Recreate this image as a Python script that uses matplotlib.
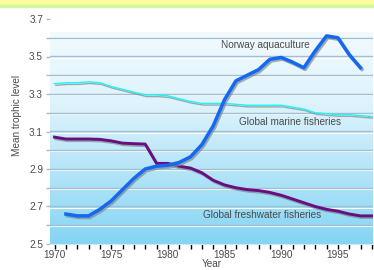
import numpy as np
import matplotlib
matplotlib.use("Agg")
import matplotlib.pyplot as plt
import matplotlib.patheffects as pe
from matplotlib.colors import LinearSegmentedColormap
from matplotlib.patches import Rectangle

plt.rcParams['font.family'] = ['Liberation Sans Narrow', 'Liberation Sans', 'DejaVu Sans']

# values
norway_years = list(range(1971, 1998))
norway = [2.66, 2.65, 2.65, 2.685, 2.73, 2.79, 2.85, 2.90, 2.915, 2.92,
          2.935, 2.965, 3.03, 3.13, 3.27, 3.37, 3.40, 3.43, 3.485, 3.495,
          3.47, 3.44, 3.53, 3.61, 3.60, 3.51, 3.44]

global_years = list(range(1970, 1999))
marine = [3.355, 3.36, 3.36, 3.365, 3.36, 3.34, 3.325, 3.31, 3.295, 3.295,
          3.29, 3.275, 3.26, 3.25, 3.25, 3.25, 3.245, 3.24, 3.24, 3.24,
          3.24, 3.23, 3.22, 3.20, 3.195, 3.19, 3.19, 3.185, 3.18]
freshwater = [3.07, 3.06, 3.06, 3.06, 3.058, 3.05, 3.038, 3.035, 3.033, 2.93,
              2.93, 2.915, 2.905, 2.88, 2.84, 2.815, 2.80, 2.79, 2.785, 2.775,
              2.76, 2.74, 2.72, 2.70, 2.685, 2.675, 2.66, 2.65, 2.65]

year_ticks = [1970, 1975, 1980, 1985, 1990, 1995]
level_ticks = [2.5, 2.7, 2.9, 3.1, 3.3, 3.5, 3.7]

fs = 7.2
grey = '#4a4a4a'

fig = plt.figure(figsize=(3.74, 2.70), dpi=100)
fig.patches.append(Rectangle((0, 1 - 5 / 270), 1, 5 / 270, transform=fig.transFigure,
                             color='#fdfd9c', zorder=0))
fig.patches.append(Rectangle((0, 1 - 7 / 270), 1, 2 / 270, transform=fig.transFigure,
                             color='#cdf7a0', zorder=0))

ax = fig.add_axes([50 / 374, 26 / 270, 323 / 374, 225 / 270])
ax.set_xlim(1969.6, 1998.1)
ax.set_ylim(2.5, 3.7)

# blue gradient background
grad = LinearSegmentedColormap.from_list('bg', ['#84d5f4', '#b3e4f8', '#def3fc', '#f2fafe'])
ax.imshow(np.linspace(0, 1, 256).reshape(-1, 1), cmap=grad, origin='lower', aspect='auto',
          extent=(1969.6, 1998.1, 2.5, 3.63), zorder=0)

for lev in np.arange(2.6, 3.65, 0.1):
    ax.axhline(lev - 0.006, color='white', lw=0.8, zorder=1)
    ax.axhline(lev, color='#a2bfd0', lw=1.0, zorder=1)

shadow = [pe.SimpleLineShadow(offset=(1, -1.2), shadow_color='#7a8a90', alpha=0.7), pe.Normal()]
ax.plot(global_years, marine, color='#1ef4f4', lw=1.0, zorder=3, path_effects=shadow)
ax.plot(global_years, freshwater, color='#6a0d80', lw=2.1, zorder=3, path_effects=shadow)
ax.plot(norway_years, norway, color='#1468f2', lw=2.5, zorder=4, path_effects=shadow)

txt = dict(fontsize=fs, color=grey, ha='center', va='center', zorder=5)
ax.text(1988.6, 3.56, 'Norway aquaculture', **txt)
ax.text(1990.8, 3.15, 'Global marine fisheries', **txt)
ax.text(1988.3, 2.655, 'Global freshwater fisheries', **txt)

for s in ['top', 'right', 'left']:
    ax.spines[s].set_visible(False)
ax.spines['bottom'].set_color('#cfe8f2')

ax.set_xticks(year_ticks)
ax.set_xticks(range(1970, 1999), minor=True)
ax.set_yticks(level_ticks)
ax.set_yticks(np.arange(2.6, 3.65, 0.2), minor=True)
ax.tick_params(axis='x', which='both', length=3.5, width=1, color='black',
               labelsize=fs, labelcolor=grey, pad=1)
ax.tick_params(axis='y', which='both', length=3, width=1, color='#a2bfd0',
               labelsize=fs, labelcolor=grey, pad=2)

ax.set_xlabel('Year', fontsize=fs, color=grey, labelpad=-1)
ax.set_ylabel('Mean trophic level', fontsize=fs, color=grey)
ax.yaxis.set_label_coords(-0.087, 0.57)

fig.savefig('out.png', dpi=100)
